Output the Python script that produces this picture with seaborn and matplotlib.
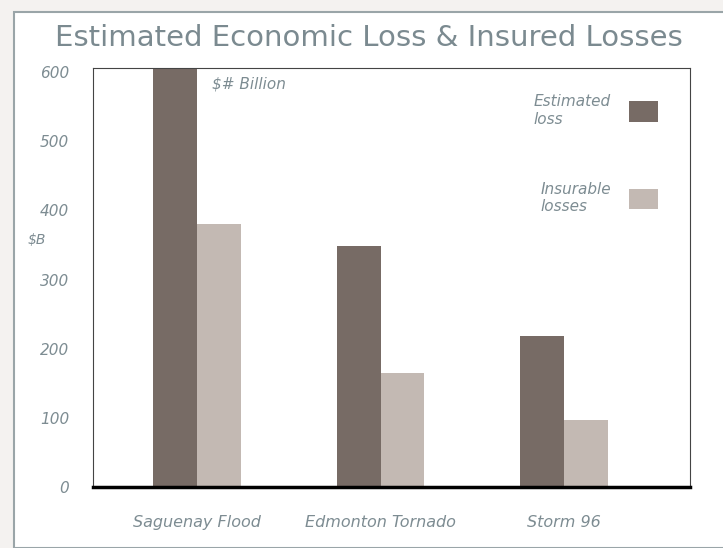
import matplotlib.pyplot as plt
from matplotlib.patches import Rectangle
import pandas as pd
import seaborn as sns

# values in $ billion
events = ['Saguenay Flood', 'Edmonton Tornado', 'Storm 96']
estimated_loss = [605, 349, 219]
insurable_losses = [380, 165, 97]
series = ['Estimated\nloss', 'Insurable\nlosses']

df = pd.DataFrame({
    'event': events * 2,
    'kind': [series[0]] * 3 + [series[1]] * 3,
    'value': estimated_loss + insurable_losses,
})

sns.set_style('white')
plt.rcParams['font.family'] = ['DejaVu Sans']
txt = '#7d8c92'

fig = plt.figure(figsize=(7.23, 5.48), dpi=100)
fig.patch.set_facecolor('#f4f2f0')
# white panel with grey frame
fig.patches.append(Rectangle((14/723, 0), 1, 1 - 12/548, transform=fig.transFigure,
                             facecolor='white', edgecolor='#9aa5a8', lw=1.5, zorder=-1))

ax = fig.add_axes([93/723, 1 - 487/548, 597/723, 419/548])
sns.barplot(data=df, x='event', y='value', hue='kind', order=events, hue_order=series,
            palette=['#776b65', '#c3b9b3'], width=0.48, saturation=1, linewidth=0, ax=ax)

ax.set_xlim(-0.57, 2.69)
ax.set_ylim(0, 606)
ax.set_yticks([0, 100, 200, 300, 400, 500, 600])
ax.tick_params(axis='y', length=3, pad=14, labelsize=11, labelcolor=txt, color='#555')
ax.tick_params(axis='x', length=0, pad=20, labelsize=11.5, labelcolor=txt)
for lab in ax.get_xticklabels() + ax.get_yticklabels():
    lab.set_style('italic')
ax.set_xlabel('')
ax.set_ylabel('')

for s in ['left', 'top', 'right']:
    ax.spines[s].set_color('#444')
    ax.spines[s].set_linewidth(0.8)
ax.spines['bottom'].set_color('black')
ax.spines['bottom'].set_linewidth(2.5)

handles, labels = ax.get_legend_handles_labels()
leg = ax.legend(handles, labels, loc='upper right', bbox_to_anchor=(0.97, 0.97), frameon=False,
                markerfirst=False, handlelength=1.9, handleheight=1.7, labelspacing=3.6,
                handletextpad=1.2, prop={'style': 'italic', 'size': 11}, labelcolor=txt)
for t in leg.get_texts():
    t.set_multialignment('left')

ax.text(0.2, 0.95, '$# Billion', transform=ax.transAxes, fontsize=11, style='italic', color=txt)
fig.text(28/723, 1 - 244/548, '$B', fontsize=10, style='italic', color=txt)

fig.text(369/723, 1 - 38/548, 'Estimated Economic Loss & Insured Losses', ha='center', va='center',
         fontsize=21, color='#7b8a90')

fig.savefig('out.png', dpi=100)
